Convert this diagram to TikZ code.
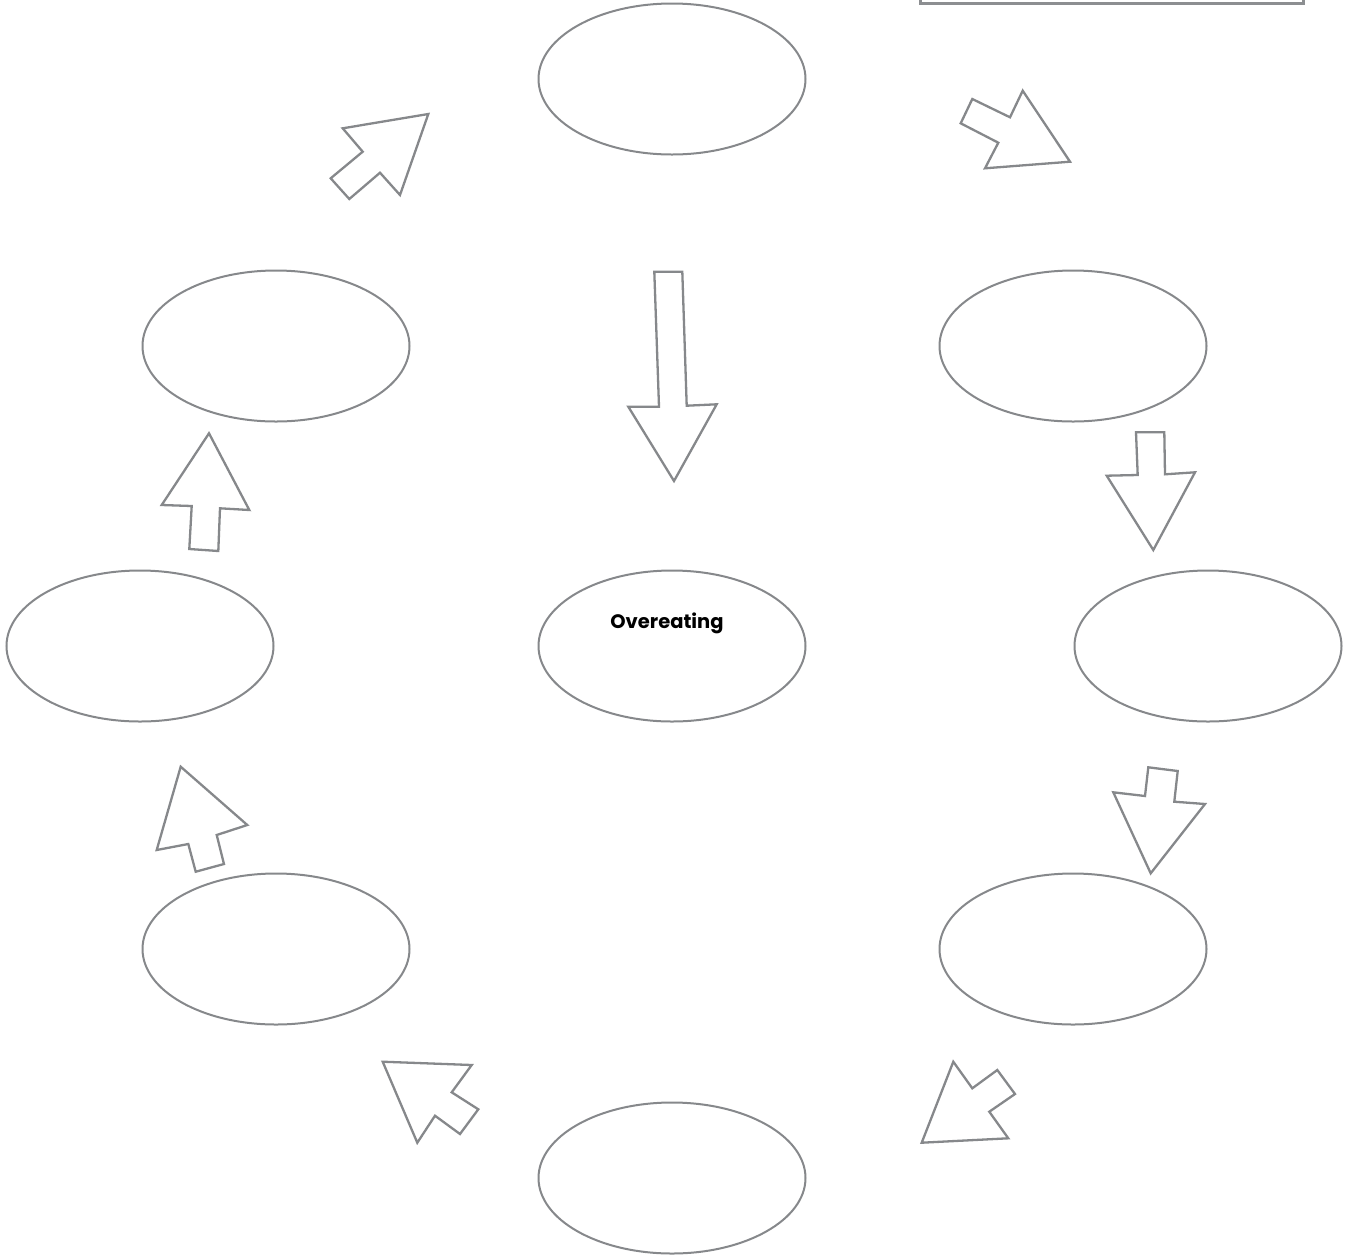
\documentclass[tikz,border=0pt]{standalone}
\usepackage{fontspec}
\setsansfont{Poppins}
\usetikzlibrary{shapes.geometric}
\definecolor{lineg}{HTML}{86888B}
\definecolor{boxg}{HTML}{8C8E91}
\tikzset{
  bubble/.style={ellipse, draw=lineg, line width=2pt, minimum width=267pt, minimum height=151pt, inner sep=0pt},
  blockarrow/.style={draw=lineg, line width=2.3pt, line join=miter},
  cornerbox/.style={draw=boxg, line width=3pt}
}
\begin{document}
\begin{tikzpicture}[x=1pt, y=-1pt]
\useasboundingbox (0,0) rectangle (1353,1254);
\begin{scope}
\clip (0,0) rectangle (1353,1254);
\draw[cornerbox] (920,-40) rectangle (1303,3);
\end{scope}
% ellipses
\node[bubble] (top) at (672,79) {};
\node[bubble] (lu) at (276,346) {};
\node[bubble] (ru) at (1073,346) {};
\node[bubble] (lm) at (140,646) {};
\node[bubble] (ctr) at (672,646) {};
\node[bubble] (rm) at (1208,646) {};
\node[bubble] (ll) at (276,949) {};
\node[bubble] (rl) at (1073,949) {};
\node[bubble] (bot) at (672,1178) {};
\node[font=\sffamily\bfseries\fontsize{19.5}{22}\selectfont, anchor=center] (ctrtext) at (667,623) {Overeating};
% block arrows
% top-left diagonal up-right
\draw[blockarrow] (428.3,114) -- (342.7,128.3) -- (362.7,151.7) -- (330.7,178.3) -- (349.3,199) -- (380,172.7) -- (400,195) -- cycle;
% top-right diagonal down-right
\draw[blockarrow] (1070,161.7) -- (985,168.3) -- (998.3,142.7) -- (960.7,123.3) -- (972.3,99) -- (1010,117.3) -- (1022.7,90.7) -- cycle;
% center long down
\draw[blockarrow] (654.3,271.7) -- (682.3,271.7) -- (686.7,405.7) -- (716.7,404.3) -- (674,481) -- (628.3,406.7) -- (659,406.7) -- cycle;
% right upper down
\draw[blockarrow] (1136,432.3) -- (1164.3,432.3) -- (1165,474.3) -- (1195,472.3) -- (1153.3,550) -- (1106.7,475.7) -- (1137.7,475) -- cycle;
% right lower down
\draw[blockarrow] (1148.3,767.3) -- (1177.7,771) -- (1174.3,801.7) -- (1205,804) -- (1150.7,873.3) -- (1113.3,792.3) -- (1145,796) -- cycle;
% bottom-right diagonal down-left
\draw[blockarrow] (921.7,1142.7) -- (1008.3,1138.3) -- (989.3,1111.7) -- (1015,1094) -- (997.3,1070) -- (972.3,1088.3) -- (953.3,1061.7) -- cycle;
% bottom-left diagonal up-left
\draw[blockarrow] (382.7,1061.7) -- (471.7,1065) -- (451.7,1092.3) -- (478.3,1109.3) -- (460,1134) -- (435,1115.7) -- (417.3,1142.7) -- cycle;
% left lower up
\draw[blockarrow] (180.7,766.7) -- (247.3,825) -- (216.7,835) -- (224,864) -- (195.7,871.7) -- (188.3,844) -- (156.7,850) -- cycle;
% left upper up
\draw[blockarrow] (209,433.3) -- (249.3,510) -- (220,508.3) -- (218.3,551) -- (189.3,549) -- (191.7,506) -- (161.7,505) -- cycle;
\end{tikzpicture}
\end{document}
